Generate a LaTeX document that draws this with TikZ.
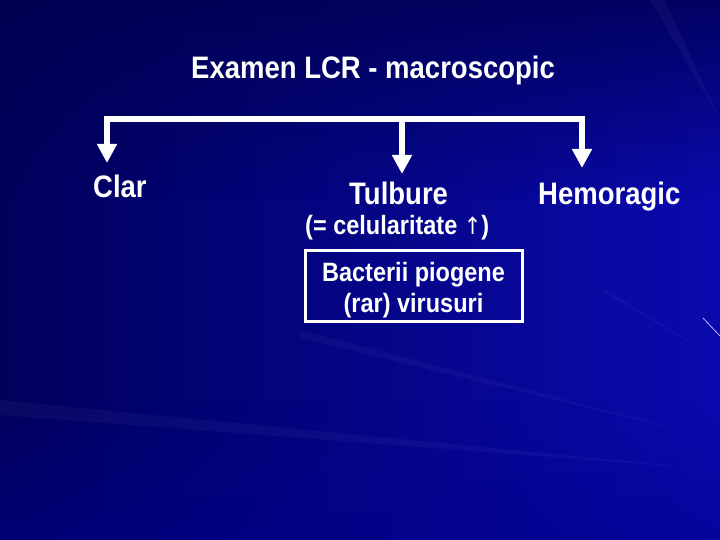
\documentclass[tikz,border=0pt]{standalone}
\usepackage{fontspec}
\setmainfont{Liberation Sans}
\newfontfamily\symfont{DejaVu Sans}
\usetikzlibrary{arrows.meta,fadings}
\definecolor{bgmid}{RGB}{0,0,140}
\definecolor{bgdark}{RGB}{0,0,80}
\definecolor{bgbright}{RGB}{10,10,175}
\newcommand{\tallt}[1]{\scalebox{1}[1.13]{#1}}
\tikzset{
  lbl/.style={text=white,font=\bfseries\fontsize{27.5}{30}\selectfont,inner sep=0pt,anchor=base west},
  sublbl/.style={text=white,font=\bfseries\fontsize{23.5}{28}\selectfont,inner sep=0pt,anchor=base west},
  conn/.style={draw=white,line width=5.5pt},
  arr/.style={conn,-{Triangle[width=19pt,length=19pt]}},
  ray/.style={fill=white,opacity=0.035}
}
\begin{document}
\begin{tikzpicture}[x=1pt,y=-1pt]
\useasboundingbox (0,0) rectangle (720,540);
% background
\shade[left color=bgdark!80!bgmid, right color=bgbright] (0,0) rectangle (720,540);
\fill[bgdark,path fading=south,opacity=0.8] (0,0) rectangle (720,200);
\fill[bgmid,path fading=north,opacity=0.5] (0,400) rectangle (720,540);
% faint rays
\fill[ray] (720,470) -- (0,400) -- (0,415) -- cycle;
\fill[ray] (720,440) -- (300,330) -- (300,338) -- cycle;
\fill[ray] (720,360) -- (600,290) -- (606,290) -- cycle;
\fill[ray] (720,120) -- (650,0) -- (665,0) -- cycle;
\draw[draw={rgb,255:red,200;green,170;blue,255},line width=0.8pt] (703,318) -- (720,336);
% title
\node[lbl] (title) at (191,79) {\tallt{Examen LCR - macroscopic}};
% coordinates of connector
\coordinate (jl) at (107,119);
\coordinate (jm) at (402,119);
\coordinate (jr) at (582,119);
\coordinate (tl) at (107,163);
\coordinate (tm) at (402,174);
\coordinate (tr) at (582,168);
\draw[conn,line cap=rect] (jl) -- (jr);
\draw[arr] (jl) -- (tl);
\draw[arr] (jm) -- (tm);
\draw[arr] (jr) -- (tr);
% labels
\node[lbl] (clar) at (93,198) {\tallt{Clar}};
\node[lbl] (tulbure) at (349,205) {\tallt{Tulbure}};
\node[lbl] (hemo) at (538,205) {\tallt{Hemoragic}};
\node[sublbl] (cel) at (305,235) {\tallt{(= celularitate {\symfont\mdseries\fontsize{21}{24}\selectfont ↑})}};
\node[draw=white,line width=3pt,minimum width=217pt,minimum height=71pt,inner sep=0pt] (box) at (413.5,285.5) {};
\node[sublbl,anchor=base] (b1) at (413.5,281) {\tallt{Bacterii piogene}};
\node[sublbl,anchor=base] (b2) at (413.5,312) {\tallt{(rar) virusuri}};
\end{tikzpicture}
\end{document}
